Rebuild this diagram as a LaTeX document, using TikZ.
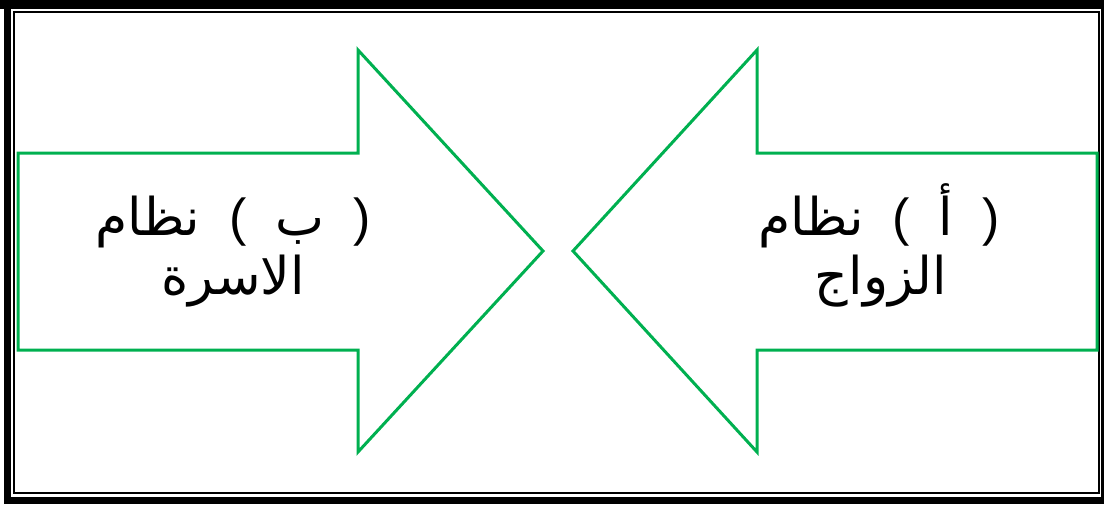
\documentclass[tikz,border=0pt]{standalone}
\usepackage{fontspec}
\setmainfont{Liberation Sans}
\newfontfamily\arabicfont[Script=Arabic]{DejaVu Sans}
\TeXXeTstate=1
\definecolor{arrowgreen}{RGB}{0,176,80}
\newcommand{\ar}[1]{{\arabicfont\beginR #1\endR}}
\tikzset{
  bigarrow/.style={draw=arrowgreen, line width=3pt, line join=miter},
  label/.style={font=\fontsize{52}{58}\selectfont, anchor=base, inner sep=0pt},
}
\begin{document}
\begin{tikzpicture}[x=1pt,y=-1pt]
\useasboundingbox (0,0) rectangle (1104,504);
% outer thick frame
\fill[black] (0,0) rectangle (1104,9);
\fill[black] (4,0) rectangle (11,504);
\fill[black] (1101,0) rectangle (1104,504);
\fill[black] (4,497) rectangle (1104,504);
% inner thin frame
\draw[black, line width=2pt] (14,12) rectangle (1099,493);
% left arrow
\draw[bigarrow] (18,153) -- (358,153) -- (358,50) -- (543,251) -- (358,452) -- (358,350) -- (18,350) -- cycle;
% right arrow
\draw[bigarrow] (1097,153) -- (757,153) -- (757,50) -- (573,251) -- (757,452) -- (757,350) -- (1097,350) -- cycle;
% texts
\node[label] (b1) at (233,235) {\ar{نظام}\ \ (\ \ \ar{ب}\ \ )};
\node[label] (b2) at (233,294) {\ar{الاسرة}};
\node[label] (a1) at (879,235) {\ar{نظام}\ \ (\ \ \ar{أ}\ \ )};
\node[label] (a2) at (881,294) {\ar{الزواج}};
\end{tikzpicture}
\end{document}
